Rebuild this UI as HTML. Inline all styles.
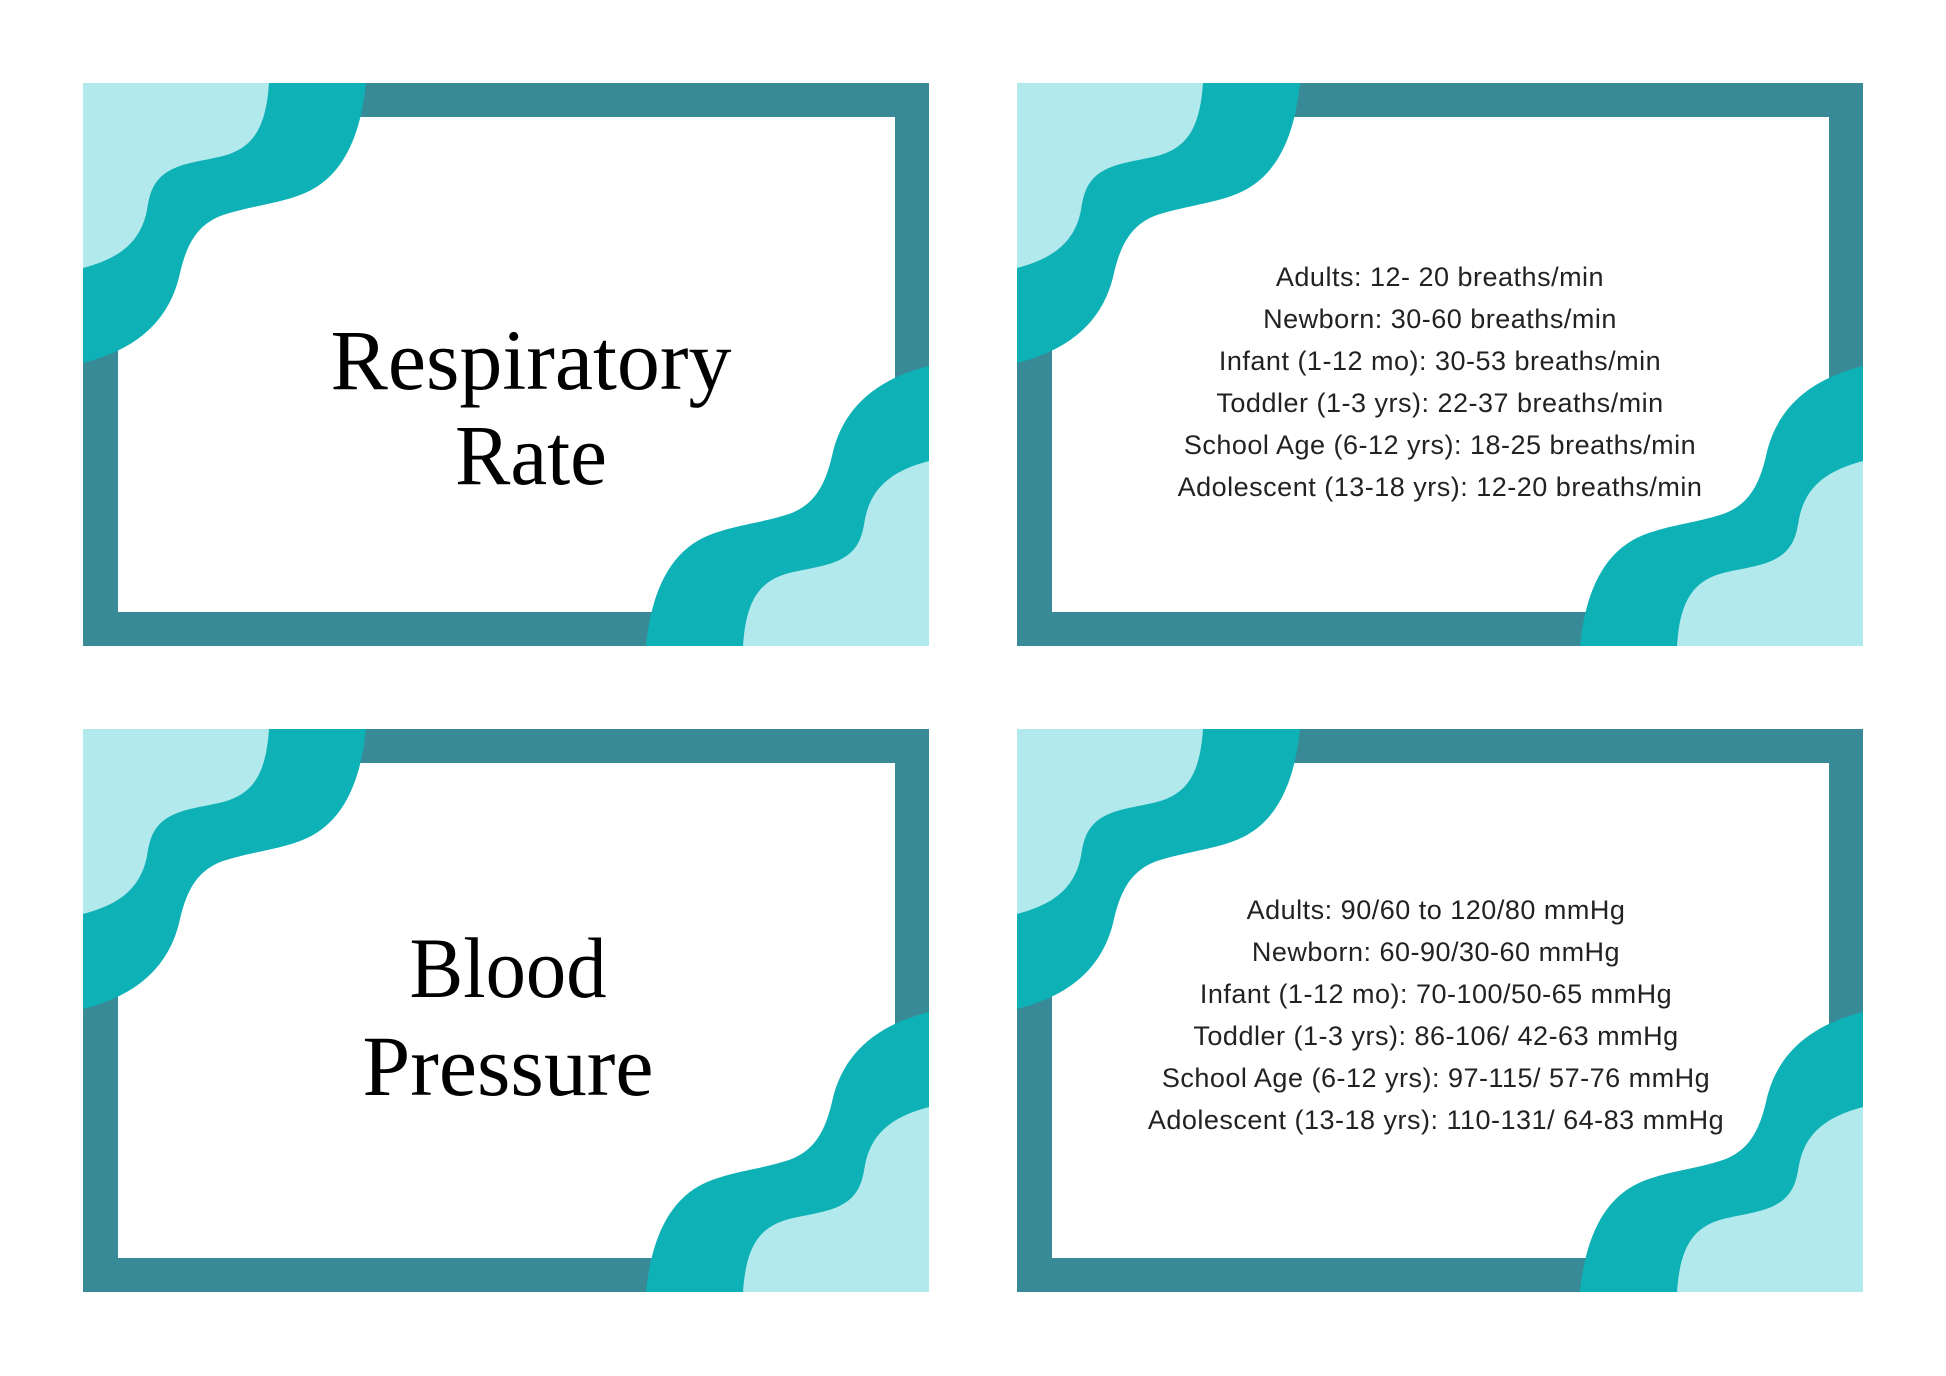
<!DOCTYPE html>
<html><head><meta charset="utf-8"><style>html,body{margin:0;padding:0;background:#fff}svg{display:block}</style></head>
<body>
<svg width="1946" height="1376" viewBox="0 0 1946 1376" xmlns="http://www.w3.org/2000/svg">
<defs>
<g id="card">
<rect x="0" y="0" width="846" height="563" fill="#388A96"/>
<rect x="35" y="34" width="777" height="495" fill="#fff"/>
<g id="corner">
<path d="M0,0 L283,0 C278,50 262,88 230,106 C205,120 170,122 140,132 C115,141 104,160 97,190 C88,232 60,265 0,280 Z" fill="#0EB1B5"/>
<path d="M0,0 L186,0 C183,45 170,65 140,73 C115,79 95,80 80,92 C68,102 66,115 64,127 C58,158 38,175 0,185 Z" fill="#B2E9EC"/>
</g>
<use href="#corner" transform="rotate(180 423 281.5)"/>
</g>
</defs>
<use href="#card" x="83" y="83"/>
<use href="#card" x="1017" y="83"/>
<use href="#card" x="83" y="729"/>
<use href="#card" x="1017" y="729"/>

<g font-family="Liberation Serif, serif" font-size="86" fill="#000" text-anchor="middle">
<text x="531" y="389" textLength="401" lengthAdjust="spacingAndGlyphs">Respiratory</text>
<text x="531" y="484" textLength="152" lengthAdjust="spacingAndGlyphs">Rate</text>
<text x="508" y="997" textLength="197" lengthAdjust="spacingAndGlyphs">Blood</text>
<text x="508" y="1095" textLength="291" lengthAdjust="spacingAndGlyphs">Pressure</text>
</g>

<g font-family="Liberation Sans, sans-serif" font-size="27" fill="#222" text-anchor="middle" dominant-baseline="central" letter-spacing="0.5">
<text x="1440" y="277">Adults: 12- 20 breaths/min</text>
<text x="1440" y="319">Newborn: 30-60 breaths/min</text>
<text x="1440" y="361">Infant (1-12 mo): 30-53 breaths/min</text>
<text x="1440" y="403">Toddler (1-3 yrs): 22-37 breaths/min</text>
<text x="1440" y="445">School Age (6-12 yrs): 18-25 breaths/min</text>
<text x="1440" y="487">Adolescent (13-18 yrs): 12-20 breaths/min</text>

<text x="1436" y="910">Adults: 90/60 to 120/80 mmHg</text>
<text x="1436" y="952">Newborn: 60-90/30-60 mmHg</text>
<text x="1436" y="994">Infant (1-12 mo): 70-100/50-65 mmHg</text>
<text x="1436" y="1036">Toddler (1-3 yrs): 86-106/ 42-63 mmHg</text>
<text x="1436" y="1078">School Age (6-12 yrs): 97-115/ 57-76 mmHg</text>
<text x="1436" y="1120">Adolescent (13-18 yrs): 110-131/ 64-83 mmHg</text>
</g>
</svg>
</body></html>
